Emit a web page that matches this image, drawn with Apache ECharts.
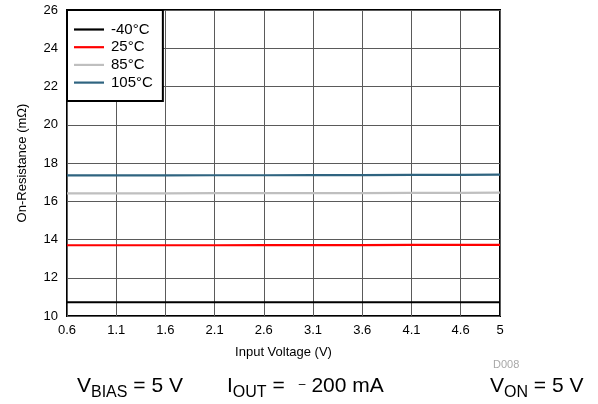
<!DOCTYPE html>
<html>
<head>
<meta charset="utf-8">
<script src="https://cdn.jsdelivr.net/npm/echarts@6/dist/echarts.min.js"></script>
<style>
html,body{margin:0;padding:0;background:#fff;}
#chart{width:598px;height:404px;}
</style>
</head>
<body>
<div id="chart"></div>
<script>
var voltage = [0.6, 1.1, 1.6, 2.1, 2.6, 3.1, 3.6, 4.1, 4.6, 5];
var rM40 = [10.72, 10.72, 10.72, 10.72, 10.72, 10.72, 10.72, 10.72, 10.72, 10.72];
var r25 = [13.70, 13.70, 13.70, 13.70, 13.71, 13.71, 13.71, 13.72, 13.72, 13.72];
var r85 = [16.41, 16.41, 16.41, 16.42, 16.42, 16.43, 16.43, 16.44, 16.44, 16.45];
var r105 = [17.35, 17.35, 17.35, 17.36, 17.36, 17.37, 17.37, 17.38, 17.38, 17.39];
var seriesNames = ['-40°C', '25°C', '85°C', '105°C'];
var seriesColors = ['#000000', '#ff0000', '#bfbfbf', '#2f6480'];
var xTicks = [0.6, 1.1, 1.6, 2.1, 2.6, 3.1, 3.6, 4.1, 4.6, 5];

function pairs(ys){ return voltage.map(function(v,i){ return [v, ys[i]]; }); }
var allData = [rM40, r25, r85, r105];

var chart = echarts.init(document.getElementById('chart'), null, {renderer:'canvas'});
var font = 'Liberation Sans, Arial, sans-serif';
var lineIcon = 'path://M0,0L30,0L30,2.2L0,2.2Z';
chart.setOption({
  animation: false,
  backgroundColor: '#fff',
  textStyle: {fontFamily: font},
  grid: {left: 67, top: 10, right: 98, bottom: 88, show: true, borderColor: '#000', borderWidth: 2, backgroundColor: 'transparent', containLabel: false},
  legend: {
    left: 67, top: 10, orient: 'vertical',
    backgroundColor: '#fff', borderColor: '#000', borderWidth: 2, borderRadius: 0,
    padding: [12, 10, 11, 7],
    itemWidth: 30, itemHeight: 14, itemGap: 2.7,
    textStyle: {fontFamily: font, fontSize: 15, color: '#000', padding: [0,0,0,2]},
    data: seriesNames.map(function(n){ return {name: n, icon: lineIcon}; })
  },
  xAxis: {
    type: 'value', min: 0.6, max: 5,
    name: 'Input Voltage (V)', nameLocation: 'middle', nameGap: 30,
    nameTextStyle: {fontFamily: font, fontSize: 13, color: '#000'},
    axisLine: {show: false},
    axisTick: {show: false, customValues: xTicks},
    axisLabel: {customValues: xTicks, fontFamily: font, fontSize: 13, color: '#000', margin: 8,
      formatter: function(v){ return String(Math.round(v*10)/10); }},
    splitLine: {show: true, lineStyle: {color: '#5a5a5a', width: 1}}
  },
  yAxis: {
    type: 'value', min: 10, max: 26, interval: 2,
    name: 'On-Resistance (mΩ)', nameLocation: 'middle', nameGap: 38,
    nameTextStyle: {fontFamily: font, fontSize: 13, color: '#000'},
    axisLine: {show: false}, axisTick: {show: false},
    axisLabel: {fontFamily: font, fontSize: 13, color: '#000', margin: 9},
    splitLine: {show: true, lineStyle: {color: '#5a5a5a', width: 1}}
  },
  series: seriesNames.map(function(n, i){
    return {name: n, type: 'line', data: pairs(allData[i]), symbol: 'none',
      lineStyle: {color: seriesColors[i], width: 2.2}, itemStyle: {color: seriesColors[i]}, z: 3};
  }),
  graphic: [
    {type: 'text', left: 493, top: 359, style: {text: 'D008', fontFamily: font, fontSize: 11, fill: '#a8a8a8'}},
    {type: 'text', left: 77, top: 376, style: {
      text: '{m|V}{s|BIAS}{m| = 5 V}',
      rich: {m: {fontFamily: font, fontSize: 21, color:'#000'}, s: {fontFamily: font, fontSize: 16, color:'#000', padding: [13,0,0,0]}}
    }},
    {type: 'text', left: 227, top: 376, style: {
      text: '{m|I}{s|OUT}{m| =}{d|–}{m|200 mA}',
      rich: {m: {fontFamily: font, fontSize: 21, color:'#000'}, s: {fontFamily: font, fontSize: 16, color:'#000', padding: [13,0,0,0]}, d: {fontFamily: font, fontSize: 12, color:'#888', padding:[0,6,3,14]}}
    }},
    {type: 'text', left: 490, top: 376, style: {
      text: '{m|V}{s|ON}{m| = 5 V}',
      rich: {m: {fontFamily: font, fontSize: 21, color:'#000'}, s: {fontFamily: font, fontSize: 16, color:'#000', padding: [13,0,0,0]}}
    }}
  ]
});
</script>
</body>
</html>
